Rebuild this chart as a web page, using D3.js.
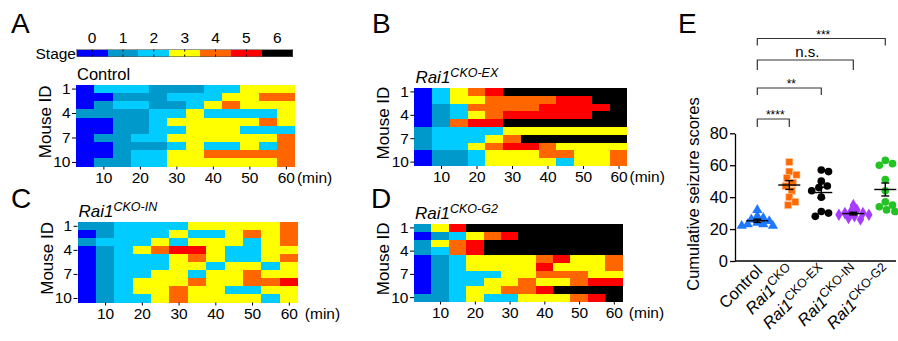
<!DOCTYPE html>
<html>
<head>
<meta charset="utf-8">
<script src="https://cdn.jsdelivr.net/npm/d3@7"></script>
<style>
  body { margin: 0; background: #fff; }
  svg { font-family: "Liberation Sans", Arial, sans-serif; }
</style>
</head>
<body>
<svg id="fig" width="898" height="341"></svg>
<script>
// seizure stages and colour key
const stages = [0, 1, 2, 3, 4, 5, 6];
const stageColors = ["#0000ff", "#0099cc", "#00ccff", "#ffff00", "#ff6600", "#ff0000", "#000000"];

// 5-min bins, labelled by bin end
const timeBins = [5, 10, 15, 20, 25, 30, 35, 40, 45, 50, 55, 60];
const timeTicks = [10, 20, 30, 40, 50, 60];
const mouseIds = [1, 2, 3, 4, 5, 6, 7, 8, 9, 10];
const mouseTicks = [1, 4, 7, 10];

// stage per mouse (rows) per bin (cols)
const controlStages = [
  [0,2,2,2,1,1,1,2,2,3,3,3],
  [0,0,1,1,1,2,2,2,3,3,4,4],
  [0,1,2,2,1,1,2,3,4,3,3,3],
  [1,1,1,1,2,2,3,2,2,2,2,3],
  [0,0,1,1,2,3,3,3,3,3,4,3],
  [0,0,1,1,2,2,3,3,3,2,2,2],
  [0,1,1,2,2,3,3,3,3,3,3,4],
  [0,0,1,1,1,2,3,2,2,3,2,4],
  [0,0,1,2,2,3,3,4,4,4,4,4],
  [0,1,1,2,2,3,3,3,3,3,3,4]
];
const ckoExStages = [
  [0,2,3,4,5,6,6,6,6,6,6,6],
  [0,2,3,3,4,4,4,4,5,5,6,6],
  [0,1,2,4,4,4,4,5,5,5,5,6],
  [0,1,2,3,4,5,5,5,5,5,6,6],
  [0,1,4,5,5,6,6,6,6,6,6,6],
  [1,2,2,2,2,3,3,3,3,3,3,3],
  [1,2,2,2,3,4,6,6,6,6,6,6],
  [1,2,2,3,4,5,5,4,3,3,3,3],
  [0,1,1,2,3,3,3,4,4,3,3,4],
  [0,1,1,2,3,3,3,3,2,3,3,4]
];
const ckoInStages = [
  [1,1,2,2,2,2,3,3,3,3,3,4],
  [0,1,2,2,2,3,2,2,3,4,3,4],
  [1,2,2,2,3,2,3,3,3,2,3,4],
  [0,1,2,3,4,5,5,3,2,2,3,3],
  [0,1,2,2,2,3,4,3,2,2,3,4],
  [0,1,2,2,2,3,3,2,3,3,2,3],
  [0,1,2,2,3,3,2,3,3,4,3,3],
  [0,1,2,3,3,3,4,3,3,4,4,5],
  [0,1,2,3,3,4,3,3,2,2,3,3],
  [0,1,2,2,3,4,3,3,3,3,2,3]
];
const ckoG2Stages = [
  [1,3,5,6,6,6,6,6,6,6,6,6],
  [0,1,2,3,4,5,6,6,6,6,6,6],
  [1,3,4,5,6,6,6,6,6,6,6,6],
  [1,2,4,5,6,6,6,6,6,6,6,6],
  [0,1,2,3,3,3,3,4,5,3,3,4],
  [0,1,2,3,3,3,3,5,3,3,3,4],
  [0,1,2,2,2,3,3,4,4,4,3,3],
  [0,1,2,2,3,3,4,3,3,4,5,5],
  [0,1,2,3,3,4,4,5,6,6,6,6],
  [1,1,2,3,2,2,3,3,3,4,5,6]
];

// panel E
const scoreGroups = ["Control", "CKO", "CKO-EX", "CKO-IN", "CKO-G2"];
const controlScores = [32, 28, 27, 26, 25, 24, 23, 23, 22, 22];
const ckoScores = [62, 56, 54, 52, 49, 47, 44, 40, 37, 35];
const ckoExScores = [57, 56, 50, 47, 46, 44, 40, 31, 30, 28];
const ckoInScores = [35, 32, 31, 30, 30, 29, 29, 28, 27, 26];
const ckoG2Scores = [63, 61, 60, 51, 44, 37, 35, 34, 32, 31];
const scoreTicks = [0, 20, 40, 60, 80];
const comparisons = [["CKO", "****"], ["CKO-EX", "**"], ["CKO-IN", "n.s."], ["CKO-G2", "***"]];

const svg = d3.select("#fig");

function letter(txt, x, y) {
  svg.append("text").attr("x", x).attr("y", y).attr("font-size", 28).text(txt);
}

function styleAxis(g, size) {
  g.attr("font-family", null).attr("font-size", null);
  g.selectAll("text").attr("font-size", size).attr("fill", "#000");
  g.selectAll(".tick line").attr("stroke", "#000");
}

function heatmap(o) {
  const g = svg.append("g");
  const x = d3.scaleLinear().domain([2.5, 62.5]).range([o.left, o.right]);
  const y = d3.scaleBand().domain(mouseIds).range([o.top, o.bottom]);

  o.rows.forEach((row, r) => {
    g.append("g").selectAll("rect").data(row).enter().append("rect")
      .attr("x", (d, i) => x(timeBins[i] - 2.5))
      .attr("width", (d, i) => x(timeBins[i] + 2.5) - x(timeBins[i] - 2.5))
      .attr("y", y(mouseIds[r]))
      .attr("height", y.bandwidth())
      .attr("shape-rendering", "crispEdges")
      .attr("fill", d => stageColors[d]);
  });

  const xa = g.append("g").attr("transform", `translate(0,${o.bottom})`)
    .call(d3.axisBottom(x).tickValues(timeTicks).tickSize(3).tickPadding(2));
  xa.select(".domain").remove();
  styleAxis(xa, 15.5);

  const ya = g.append("g").attr("transform", `translate(${o.left},0)`)
    .call(d3.axisLeft(y).tickValues(mouseTicks).tickSize(4).tickPadding(1.5));
  ya.select(".domain").remove();
  styleAxis(ya, 15.5);

  g.append("text").attr("x", x(60) + o.minGap).attr("y", o.bottom + 16)
    .attr("font-size", 15.5).text("(min)");

  g.append("text")
    .attr("transform", `translate(${o.left - 25},${(o.top + o.bottom) / 2 - 4}) rotate(-90)`)
    .attr("text-anchor", "middle").attr("font-size", 17).text("Mouse ID");

  const t = g.append("text").attr("x", o.left + 1).attr("y", o.top - 5).attr("font-size", 16.5);
  if (!o.sup) {
    t.text(o.title);
  } else {
    t.append("tspan").attr("font-style", "italic").attr("font-size", 17).text(o.title);
    t.append("tspan").attr("font-style", "italic").attr("font-size", 12.5).attr("dy", -6).text(o.sup);
  }
}

// panel letters
letter("A", 11, 33);
letter("B", 372, 33);
letter("C", 11, 208);
letter("D", 371, 208);
letter("E", 678, 33);

// stage colour bar
const sb = d3.scaleBand().domain(stages).range([76.7, 292.7]);
const bar = svg.append("g");
bar.selectAll("rect").data(stages).enter().append("rect")
  .attr("x", d => sb(d)).attr("y", 49.5).attr("width", sb.bandwidth()).attr("height", 7)
  .attr("shape-rendering", "crispEdges").attr("fill", d => stageColors[d]);
bar.append("rect").attr("x", 76.7).attr("y", 49.5).attr("width", 216).attr("height", 7)
  .attr("fill", "none").attr("stroke", "#555").attr("stroke-width", 0.6);
bar.selectAll("line.tk").data(stages.slice(0, 6)).enter().append("line")
  .attr("x1", d => sb(d) + sb.bandwidth() / 2).attr("x2", d => sb(d) + sb.bandwidth() / 2)
  .attr("y1", 49.5).attr("y2", 51.5).attr("stroke", "#000");
bar.selectAll("line.tb").data(stages.slice(0, 6)).enter().append("line")
  .attr("x1", d => sb(d) + sb.bandwidth() / 2).attr("x2", d => sb(d) + sb.bandwidth() / 2)
  .attr("y1", 54.5).attr("y2", 56.5).attr("stroke", "#000");
bar.selectAll("text").data(stages).enter().append("text")
  .attr("x", d => sb(d) + sb.bandwidth() / 2).attr("y", 43)
  .attr("text-anchor", "middle").attr("font-size", 15.5).text(d => d);
svg.append("text").attr("x", 76).attr("y", 58.5).attr("text-anchor", "end")
  .attr("font-size", 15.5).text("Stage");

heatmap({ rows: controlStages, left: 76, right: 295, top: 85, bottom: 166.5, title: "Control", minGap: 11 });
heatmap({ rows: ckoExStages, left: 414.4, right: 627.4, top: 88, bottom: 166, title: "Rai1", sup: "CKO-EX", minGap: 11 });
heatmap({ rows: ckoInStages, left: 77.5, right: 298, top: 222.3, bottom: 302.5, title: "Rai1", sup: "CKO-IN", minGap: 16 });
heatmap({ rows: ckoG2Stages, left: 414, right: 622.5, top: 224, bottom: 301.5, title: "Rai1", sup: "CKO-G2", minGap: 15 });

// ---- panel E ----
const scores = [controlScores, ckoScores, ckoExScores, ckoInScores, ckoG2Scores];
const markColors = ["#1f78ff", "#ff6a00", "#000000", "#a63cff", "#22c322"];
const markShapes = [d3.symbolTriangle, d3.symbolSquare, d3.symbolCircle, d3.symbolDiamond, d3.symbolCircle];

const ey = d3.scaleLinear().domain([0, 80]).range([261, 133.3]);
const ex = d3.scalePoint().domain(scoreGroups).range([757.3, 885.3]);

const eg = svg.append("g");
const yax = eg.append("g").attr("transform", "translate(735,0)")
  .call(d3.axisLeft(ey).tickValues(scoreTicks).tickSize(5).tickSizeOuter(0).tickPadding(2));
yax.select(".domain").attr("stroke", "#000").attr("stroke-width", 1.3);
yax.selectAll(".tick line").attr("stroke-width", 1.3);
styleAxis(yax, 16.5);
eg.append("line").attr("x1", 735).attr("x2", 896).attr("y1", ey(0)).attr("y2", ey(0))
  .attr("stroke", "#000").attr("stroke-width", 1.3);

eg.append("text").attr("transform", "translate(699,194) rotate(-90)")
  .attr("text-anchor", "middle").attr("font-size", 16.5).text("Cumulative seizure scores");

// x labels
scoreGroups.forEach(gname => {
  const t = eg.append("text")
    .attr("transform", `translate(${ex(gname) + 6},${ey(0) + 11}) rotate(-45)`)
    .attr("text-anchor", "end").attr("font-size", 16.5);
  if (gname === "Control") {
    t.text("Control");
  } else {
    t.append("tspan").attr("font-style", "italic").text("Rai1");
    t.append("tspan").attr("font-size", 12.5).attr("dy", -6).text(gname);
  }
});

// beeswarm placement
function swarm(values, cx, r) {
  const pts = values.map(v => ({ v, y: ey(v) })).sort((a, b) => a.y - b.y);
  const placed = [];
  pts.forEach(p => {
    for (let k = 0; k < 60; k++) {
      const off = (k % 2 ? 1 : -1) * Math.ceil(k / 2) * 1.2;
      if (placed.every(q => Math.hypot(q.x - (cx + off), q.y - p.y) >= 2 * r)) {
        p.x = cx + off;
        break;
      }
    }
    placed.push(p);
  });
  return placed;
}

scores.forEach((vals, gi) => {
  const cx = ex(scoreGroups[gi]);
  const pts = swarm(vals, cx, gi === 0 || gi === 3 ? 2.9 : 3.4);
  eg.append("g").selectAll("path").data(pts).enter().append("path")
    .attr("d", d3.symbol().type(markShapes[gi]).size(gi === 1 ? 50 : 46))
    .attr("transform", d => `translate(${d.x},${d.y})`)
    .attr("fill", markColors[gi])
    .attr("stroke", gi === 1 ? "#ffd0b0" : "none").attr("stroke-width", 0.6);

  const m = d3.mean(vals);
  const sem = d3.deviation(vals) / Math.sqrt(vals.length);
  const lg = eg.append("g").attr("stroke", "#000").attr("stroke-width", 1.4);
  lg.append("line").attr("x1", cx - 11).attr("x2", cx + 11).attr("y1", ey(m)).attr("y2", ey(m));
  lg.append("line").attr("x1", cx).attr("x2", cx).attr("y1", ey(m - sem)).attr("y2", ey(m + sem));
  lg.append("line").attr("x1", cx - 4).attr("x2", cx + 4).attr("y1", ey(m - sem)).attr("y2", ey(m - sem));
  lg.append("line").attr("x1", cx - 4).attr("x2", cx + 4).attr("y1", ey(m + sem)).attr("y2", ey(m + sem));
});

// significance brackets
const bracketTop = [119, 88, 60, 38.5];
const bracketLeg = [8, 7, 10, 7];
comparisons.forEach(([gname, lab], i) => {
  const x1 = ex("Control"), x2 = ex(gname), yt = bracketTop[i];
  eg.append("path")
    .attr("d", `M${x1},${yt + bracketLeg[i]}V${yt}H${x2}V${yt + bracketLeg[i]}`)
    .attr("fill", "none").attr("stroke", "#333").attr("stroke-width", 1.2);
  const star = lab !== "n.s.";
  eg.append("text").attr("x", (x1 + x2) / 2 + 2)
    .attr("y", star ? yt + 0 : yt - 3)
    .attr("text-anchor", "middle").attr("font-size", star ? 12 : 15).text(lab);
});
</script>
</body>
</html>
